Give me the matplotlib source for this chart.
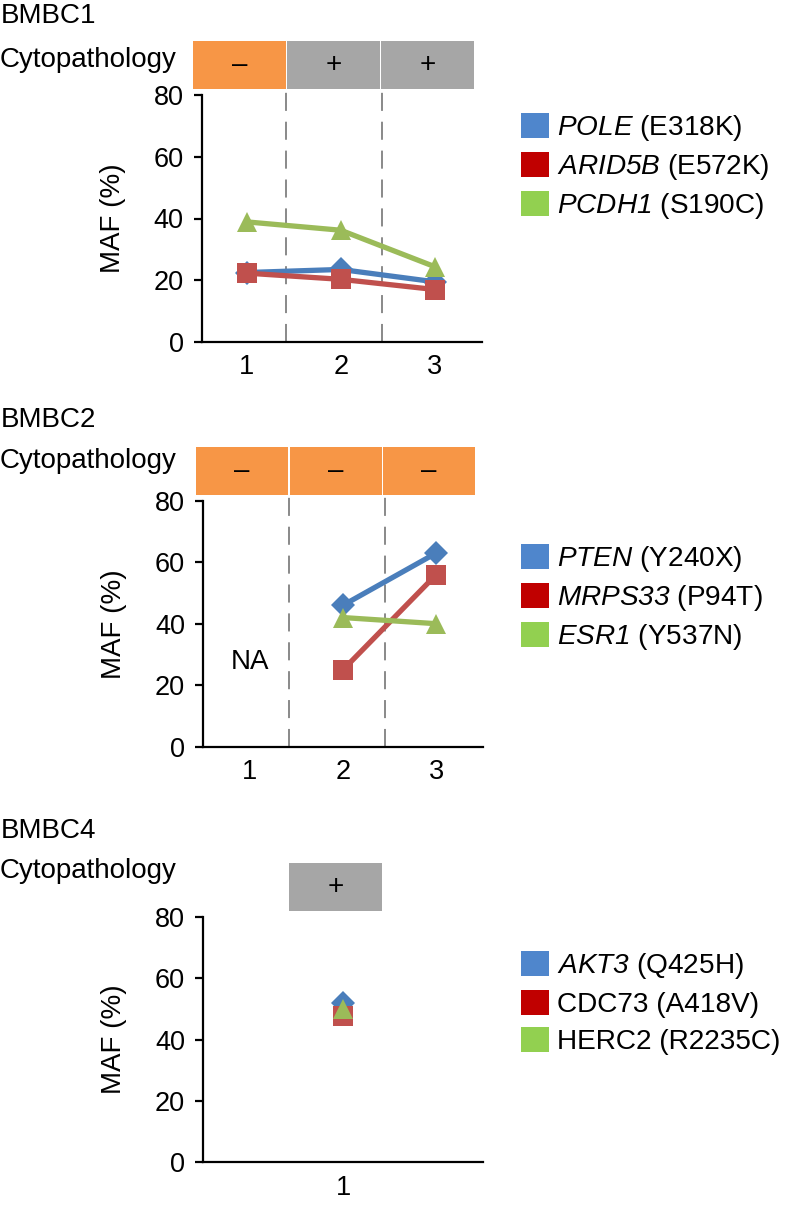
import numpy as np
import matplotlib.pyplot as plt
from matplotlib.patches import Rectangle, Patch

plt.rcParams['font.family'] = ['Liberation Sans', 'DejaVu Sans']
plt.rcParams['mathtext.fontset'] = 'custom'
# gene names: letters and digits both italic
plt.rcParams['mathtext.rm'] = 'Liberation Sans:italic'
plt.rcParams['mathtext.it'] = 'Liberation Sans:italic'

# data
bmbc1_x = [1, 2, 3]
pole = [22.5, 23.5, 19.5]
arid5b = [22.3, 20.3, 17.0]
pcdh1 = [38.9, 36.2, 24.4]
bmbc1_cyto = ['–', '+', '+']

bmbc2_x = [2, 3]
pten = [46, 63]
mrps33 = [25, 56]
esr1 = [42, 40]
bmbc2_cyto = ['–', '–', '–']

bmbc4_x = [1]
akt3 = [52]
cdc73 = [47.5]
herc2 = [50]
bmbc4_cyto = ['+']

labels1 = [r'$POLE$ (E318K)', r'$ARID5B$ (E572K)', r'$PCDH1$ (S190C)']
labels2 = [r'$PTEN$ (Y240X)', r'$MRPS33$ (P94T)', r'$ESR1$ (Y537N)']
labels3 = [r'$AKT3$ (Q425H)', 'CDC73 (A418V)', 'HERC2 (R2235C)']

line_cols = ['#4A7EBB', '#C0504D', '#9BBB59']
leg_cols = ['#4F86CC', '#C00000', '#92D050']
markers = ['D', 's', '^']
msizes = [12.5, 14, 14]
box_col = {'–': '#F79646', '+': '#A6A6A6'}

W, H = 788, 1211
fig = plt.figure(figsize=(W / 100, H / 100), dpi=100)


def px(x, y):
    return x / W, 1 - y / H


def make_ax(left, top, bottom, xlim):
    ax = fig.add_axes([left / W, 1 - bottom / H, 280 / W, (bottom - top) / H])
    ax.set_xlim(*xlim)
    ax.set_ylim(0, 80)
    ax.set_yticks([0, 20, 40, 60, 80])
    for s in ['top', 'right']:
        ax.spines[s].set_visible(False)
    for s in ['left', 'bottom']:
        ax.spines[s].set_linewidth(1.6)
    ax.tick_params(axis='y', length=6, width=1.6, labelsize=19.5, pad=7)
    ax.tick_params(axis='x', length=0, labelsize=19.5, pad=9)
    ax.set_ylabel('MAF (%)', fontsize=20)
    ax.yaxis.set_label_coords(-0.27, 0.5)
    return ax


def cyto_boxes(ax, cats, status, width, shift):
    tr = ax.get_xaxis_transform()
    for c, s in zip(cats, status):
        ax.add_patch(Rectangle((c + shift - width / 2, 1.025), width, 0.195,
                               transform=tr, clip_on=False,
                               facecolor=box_col[s], edgecolor='none'))
        ax.text(c + shift, 1.122, s, transform=tr, ha='center', va='center',
                fontsize=20)


def dividers(ax, xs):
    for xv in xs:
        ax.axvline(xv, ymin=0, ymax=1.025, color='#808080', lw=1.3,
                   dashes=(10, 6), clip_on=False)


def series(ax, x, ys):
    for y, c, m, ms in zip(ys, line_cols, markers, msizes):
        ax.plot(x, y, color=c, lw=3.8, marker=m, markersize=ms,
                markeredgewidth=0, solid_capstyle='round', clip_on=False)


def legend(labels, yc):
    handles = [Patch(facecolor=c, edgecolor='none') for c in leg_cols]
    fig.legend(handles, labels, loc='center left', bbox_to_anchor=px(521, yc),
               frameon=False, fontsize=20.2, handlelength=1.0, handleheight=1.0,
               handletextpad=0.28, labelspacing=0.32, borderpad=0,
               borderaxespad=0)


# BMBC1
ax1 = make_ax(201.7, 95, 342, (0.52, 3.5))
dividers(ax1, [1.42, 2.44])
series(ax1, bmbc1_x, [pole, arid5b, pcdh1])
cyto_boxes(ax1, bmbc1_x, bmbc1_cyto, 0.985, -0.075)
ax1.set_xticks(bmbc1_x)
legend(labels1, 167)
fig.text(*px(1, 16), 'BMBC1', fontsize=20, va='center')
fig.text(*px(0, 60), 'Cytopathology', fontsize=20, va='center')

# BMBC2
ax2 = make_ax(203, 500.7, 746.7, (0.5, 3.5))
dividers(ax2, [1.42, 2.45])
series(ax2, bmbc2_x, [pten, mrps33, esr1])
cyto_boxes(ax2, [1, 2, 3], bmbc2_cyto, 0.985, -0.08)
ax2.set_xticks([1, 2, 3])
ax2.text(1.0, 27.5, 'NA', ha='center', va='center', fontsize=20)
legend(labels2, 598)
fig.text(*px(1, 420), 'BMBC2', fontsize=20, va='center')
fig.text(*px(0, 461), 'Cytopathology', fontsize=20, va='center')

# BMBC4
ax3 = make_ax(203, 916.7, 1162.3, (0.5, 1.5))
series(ax3, bmbc4_x, [akt3, cdc73, herc2])
cyto_boxes(ax3, bmbc4_x, bmbc4_cyto, 0.333, -0.027)
ax3.set_xticks(bmbc4_x)
legend(labels3, 1003)
fig.text(*px(1, 831), 'BMBC4', fontsize=20, va='center')
fig.text(*px(0, 871), 'Cytopathology', fontsize=20, va='center')

fig.savefig('out.png', dpi=100)
